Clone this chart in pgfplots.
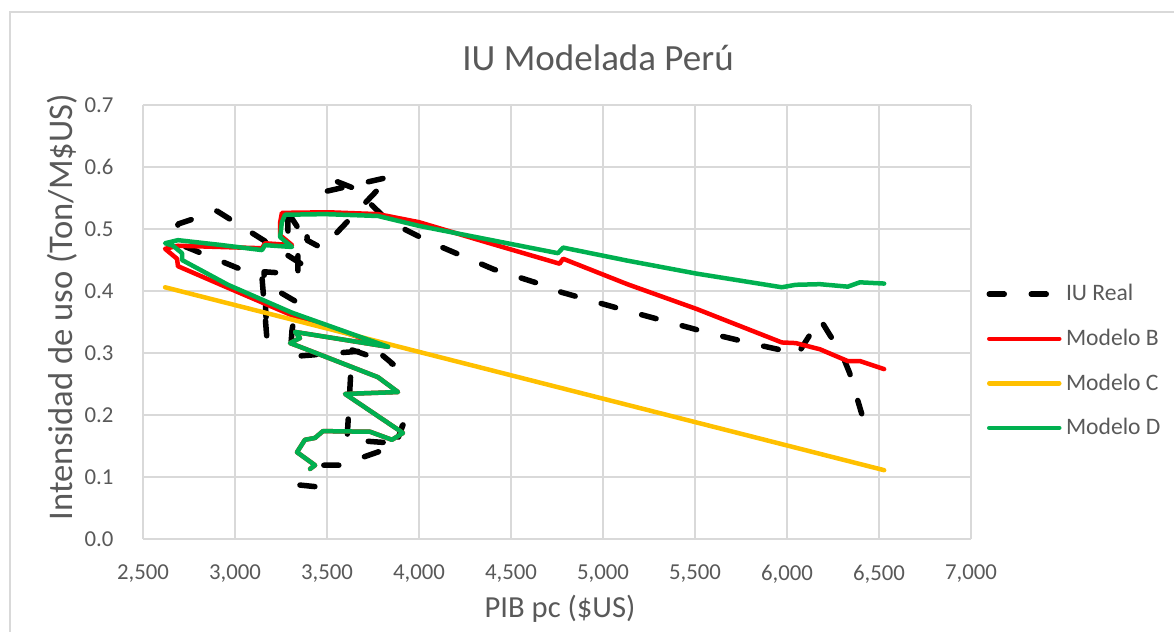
\documentclass[border=0pt]{standalone}
\usepackage{fontspec}
\setmainfont{Carlito}
\usepackage{pgfplots}
\pgfplotsset{compat=1.18}
\definecolor{txt}{HTML}{595959}
\definecolor{gridc}{HTML}{D9D9D9}
\definecolor{cB}{HTML}{FF0000}
\definecolor{cC}{HTML}{FFC000}
\definecolor{cD}{HTML}{00B050}
\begin{document}
\begin{tikzpicture}
\useasboundingbox (0,0) rectangle (587pt,316pt);
\draw[gridc, line width=0.75pt] (5pt,-5pt) rectangle (600pt,310pt);
\begin{axis}[
  at={(71.5pt,46.5pt)}, anchor=south west, scale only axis,
  width=414pt, height=217pt,
  xmin=2500, xmax=7000, ymin=0, ymax=0.7,
  xtick={2500,3000,3500,4000,4500,5000,5500,6000,6500,7000},
  ytick={0,0.1,0.2,0.3,0.4,0.5,0.6,0.7},
  grid=major, major grid style={gridc, line width=0.75pt},
  axis line style={draw=none}, tick style={draw=none},
  /pgf/number format/assume math mode=true,
  tick label style={text=txt, font=\fontsize{11.4}{13}\selectfont},
  x tick label style={yshift=-9.3pt, /pgf/number format/1000 sep={,}},
  y tick label style={xshift=-11.2pt, /pgf/number format/fixed, /pgf/number format/fixed zerofill, /pgf/number format/precision=1},
  legend style={at={(1.011,0.41)}, anchor=west, draw=none, fill=none,
    font=\fontsize{11.8}{14}\selectfont, text=txt, row sep=8.6pt},
  legend cell align=left,
  legend image code/.code={\draw[#1] (0pt,0pt) -- (35pt,0pt);},
]
\addplot[black, line width=2.75pt, dash pattern=on 7.5pt off 13.5pt, line cap=round, line join=round] coordinates {
(3353,0.087) (3451,0.084) (3473,0.119) (3571,0.119) (3870,0.150) (3913,0.184)
(3842,0.155) (3609,0.160) (3636,0.305) (3859,0.282) (3766,0.305) (3299,0.294)
(3310,0.337) (3337,0.382) (3250,0.397) (3255,0.429) (3158,0.431) (3174,0.321)
(3147,0.421) (2685,0.477) (2690,0.508) (2902,0.529) (3397,0.437) (3342,0.424)
(3342,0.463) (3288,0.495) (3288,0.515) (3255,0.542) (3342,0.502) (3397,0.510)
(3391,0.482) (3473,0.469) (3842,0.584) (3484,0.560) (3489,0.577) (3533,0.579)
(3652,0.565) (3832,0.513) (4066,0.478) (4406,0.435) (4651,0.412) (4774,0.398)
(5132,0.368) (5604,0.330) (5858,0.312) (5981,0.304) (6057,0.297) (6075,0.306)
(6179,0.355) (6235,0.328) (6293,0.302) (6340,0.268) (6406,0.202)
};
\addlegendentry{IU Real}
\addplot[cB, line width=2.25pt, line cap=round, line join=round] coordinates {
(3408,0.113) (3435,0.119) (3337,0.140) (3380,0.160) (3435,0.163) (3478,0.174)
(3734,0.173) (3853,0.160) (3913,0.171) (3598,0.234) (3886,0.237) (3777,0.261)
(3353,0.310) (3299,0.316) (3353,0.324) (3326,0.334) (3832,0.310) (3300,0.362)
(2955,0.406) (2690,0.440) (2685,0.452) (2620,0.468) (2690,0.473) (3147,0.469)
(3163,0.477) (3310,0.474) (3245,0.490) (3245,0.510) (3255,0.526) (3505,0.527)
(3777,0.524) (4000,0.511) (4396,0.476) (4764,0.444) (4783,0.452) (5132,0.411)
(5509,0.371) (5972,0.317) (6047,0.316) (6179,0.306) (6330,0.287) (6396,0.287)
(6528,0.274)
};
\addlegendentry{Modelo B}
\addplot[cC, line width=2.25pt, line cap=round] coordinates {
(2620,0.406) (6528,0.111)
};
\addlegendentry{Modelo C}
\addplot[cD, line width=2.25pt, line cap=round, line join=round] coordinates {
(3408,0.113) (3435,0.119) (3337,0.140) (3380,0.160) (3435,0.163) (3478,0.174)
(3734,0.173) (3853,0.160) (3913,0.171) (3598,0.234) (3886,0.237) (3777,0.261)
(3353,0.310) (3299,0.316) (3353,0.324) (3326,0.334) (3832,0.310) (3310,0.365)
(2962,0.410) (2712,0.450) (2712,0.461) (2663,0.473) (2620,0.477) (2690,0.482)
(2929,0.474) (3147,0.466) (3163,0.474) (3310,0.471) (3245,0.487) (3255,0.511)
(3272,0.523) (3489,0.524) (3777,0.521) (4000,0.505) (4755,0.461) (4783,0.470)
(5132,0.449) (5509,0.428) (5972,0.406) (6047,0.410) (6179,0.411) (6330,0.407)
(6396,0.414) (6528,0.412)
};
\addlegendentry{Modelo D}
\end{axis}
\node[text=txt, font=\fontsize{18.5}{22}\selectfont] at (299pt,287pt) {IU Modelada Perú};
\node[text=txt, font=\fontsize{15.3}{18}\selectfont] at (280pt,11.5pt) {PIB pc (\$US)};
\node[text=txt, rotate=90, font=\fontsize{17.3}{20}\selectfont] at (31pt,162.5pt) {Intensidad de uso (Ton/M\$US)};
\end{tikzpicture}
\end{document}
